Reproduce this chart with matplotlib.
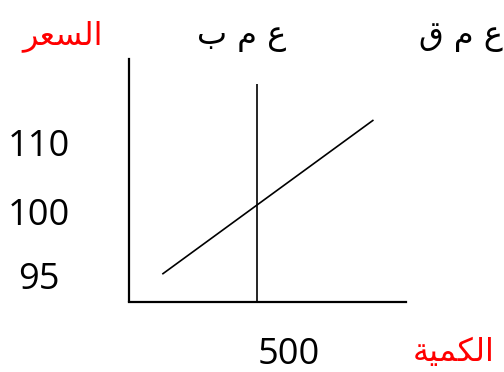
import matplotlib
matplotlib.use("Agg")
import matplotlib.pyplot as plt

# data (sketch units: quantity on x, price on y)
supply_q = [130, 955]
supply_p = [90, 112]
fixed_q = 500
fixed_p_top = 117.2
price_labels = ["110", "100", "95"]
qty_label = "500"

# arabic labels, written in visual order with presentation forms
lbl_price = "\uFEAE\uFECC\uFEB4\uFEDF\uFE8D"        # السعر
lbl_qty = "\uFE94\uFEF4\uFEE4\uFEDC\uFEDF\uFE8D"    # الكمية
lbl_short = "\uFE8F \uFEE1 \uFEC9"                  # ع م ب
lbl_long = "\uFED5 \uFEE1 \uFEC9"                   # ع م ق

# layout
W, H = 504, 372
price_label_y = [108.1, 98.3, 89.1]

plt.rcParams['font.family'] = ['Open Sans', 'DejaVu Sans']

fig = plt.figure(figsize=(W / 100, H / 100), dpi=100)
ax = fig.add_axes([129 / W, (H - 301.5) / H, 276.5 / W, 242.5 / H])
ax.set_xlim(0, 1080)
ax.set_ylim(86.1, 120.7)
for s in ["top", "right"]:
    ax.spines[s].set_visible(False)
for s in ["left", "bottom"]:
    ax.spines[s].set_linewidth(1.6)
ax.set_xticks([])
ax.set_yticks([])

ax.plot(supply_q, supply_p, color="black", lw=1.2, solid_capstyle="butt")
ax.plot([fixed_q, fixed_q], [86.1, fixed_p_top], color="black", lw=1.2,
        solid_capstyle="butt")

for lab, y in zip(price_labels, price_label_y):
    ax.text(-0.327, y, lab, transform=ax.get_yaxis_transform(),
            ha="center", va="center", fontsize=26)

fig.text(288.5 / W, 1 - 355 / H, qty_label, ha="center", va="center", fontsize=26)

ar = ['DejaVu Sans']
fig.text(62.5 / W, 1 - 36 / H, lbl_price, color="red", ha="center", va="center",
         fontsize=23, family=ar)
fig.text(242 / W, 1 - 36 / H, lbl_short, ha="center", va="center",
         fontsize=23, family=ar)
fig.text(461 / W, 1 - 36 / H, lbl_long, ha="center", va="center",
         fontsize=23, family=ar)
fig.text(454 / W, 1 - 353 / H, lbl_qty, color="red", ha="center", va="center",
         fontsize=23, family=ar)

fig.savefig("out.png", dpi=100)
